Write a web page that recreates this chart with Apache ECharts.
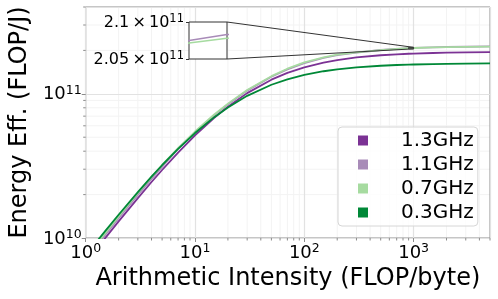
<!DOCTYPE html>
<html><head><meta charset="utf-8">
<script src="https://cdn.jsdelivr.net/npm/echarts@6/dist/echarts.min.js"></script>
<style>html,body{margin:0;padding:0;background:#fff}#c{width:498px;height:299px}</style>
</head><body><div id="c"></div>
<script>
// ---- data ----
const seriesNames = ['1.3GHz', '1.1GHz', '0.7GHz', '0.3GHz'];
const seriesColors = ['#7b3294', '#a88bb8', '#a6dba0', '#008837'];
const intensity = [1, 1.25, 1.5, 2, 3, 4, 5, 7, 10, 15, 20, 30, 50, 70, 100, 150, 200, 300, 500, 700, 900, 1000, 1500, 2000, 3000, 5000];
const eff13 = [0.0674e11, 0.0836e11, 0.0994e11, 0.1303e11, 0.1892e11, 0.2444e11, 0.2962e11, 0.3910e11, 0.5145e11, 0.6820e11, 0.8146e11, 1.0112e11, 1.2532e11, 1.3964e11, 1.5273e11, 1.6475e11, 1.7149e11, 1.7881e11, 1.8513e11, 1.8798e11, 1.8960e11, 1.9017e11, 1.9192e11, 1.9280e11, 1.9369e11, 1.9441e11];
const eff11 = [0.0708e11, 0.0878e11, 0.1045e11, 0.1371e11, 0.1989e11, 0.2571e11, 0.3117e11, 0.4159e11, 0.5393e11, 0.7118e11, 0.8465e11, 1.0524e11, 1.3122e11, 1.4780e11, 1.6345e11, 1.7730e11, 1.8580e11, 1.9310e11, 2.0130e11, 2.0510e11, 2.0750e11, 2.0830e11, 2.1010e11, 2.1110e11, 2.1210e11, 2.1300e11];
const eff07 = [0.0730e11, 0.0905e11, 0.1077e11, 0.1413e11, 0.2051e11, 0.2650e11, 0.3213e11, 0.4200e11, 0.5475e11, 0.7190e11, 0.8550e11, 1.0630e11, 1.3255e11, 1.4930e11, 1.6510e11, 1.7910e11, 1.8680e11, 1.9350e11, 2.0100e11, 2.0480e11, 2.0715e11, 2.0780e11, 2.0980e11, 2.1080e11, 2.1180e11, 2.1270e11];
const eff03 = [0.0758e11, 0.0937e11, 0.1111e11, 0.1449e11, 0.2081e11, 0.2661e11, 0.3196e11, 0.4149e11, 0.5344e11, 0.6887e11, 0.8049e11, 0.9683e11, 1.1560e11, 1.2608e11, 1.3527e11, 1.4340e11, 1.4785e11, 1.5257e11, 1.5658e11, 1.5836e11, 1.5937e11, 1.5973e11, 1.6080e11, 1.6135e11, 1.6189e11, 1.6233e11];
const allEff = [eff13, eff11, eff07, eff03];

const xRange = [1, 5000];
const yRange = [1e10, 4e11];
const insetXRange = [900, 1000];
const insetYRange = [2.05e11, 2.1e11];
const insetYLabels = ['2.05\u2009×\u200910', '2.1\u2009×\u200910'];
const insetYExp = '11';
const xMinor = [2,3,4,5,6,7,8,9,20,30,40,50,60,70,80,90,200,300,400,500,600,700,800,900,2000,3000,4000,5000];
const yMinor = [2e10,3e10,4e10,5e10,6e10,7e10,8e10,9e10,2e11,3e11,4e11];

const FONT = 'DejaVu Sans';
const richTick = {
  b: {fontSize: 18, fontFamily: FONT, color: '#000', lineHeight: 20, verticalAlign: 'bottom'},
  e: {fontSize: 12.5, fontFamily: FONT, color: '#000', lineHeight: 12, verticalAlign: 'top'}
};
const richInset = {
  b: {fontSize: 16, fontFamily: FONT, color: '#000', lineHeight: 18, verticalAlign: 'bottom'},
  e: {fontSize: 11.5, fontFamily: FONT, color: '#000', lineHeight: 11, verticalAlign: 'top'}
};
function powFmt(v) {
  const l = Math.log10(v);
  const e = Math.round(l);
  if (Math.abs(l - e) > 1e-6) return '';
  return '{b|10}{e|' + e + '}';
}

const chart = echarts.init(document.getElementById('c'), null, {renderer: 'canvas'});

const series = [];
seriesNames.forEach((n, i) => {
  series.push({
    type: 'line', name: n, xAxisIndex: 0, yAxisIndex: 0,
    data: intensity.map((x, k) => [x, allEff[i][k]]),
    showSymbol: false, smooth: false, clip: true,
    lineStyle: {width: 1.8, color: seriesColors[i], join: 'round'}, itemStyle: {color: seriesColors[i]},
    z: 3, emphasis: {disabled: true}
  });
});
seriesNames.forEach((n, i) => {
  series.push({
    type: 'line', name: n, xAxisIndex: 1, yAxisIndex: 1,
    data: intensity.map((x, k) => [x, allEff[i][k]]),
    showSymbol: false, smooth: false, clip: true,
    lineStyle: {width: 1.5, color: seriesColors[i]}, itemStyle: {color: seriesColors[i]},
    z: 12, emphasis: {disabled: true}
  });
});

chart.setOption({
  animation: false,
  backgroundColor: '#fff',
  grid: [
    {left: 83, right: 8, top: 7, bottom: 61, show: true, borderColor: '#8c8c8c', borderWidth: 1, backgroundColor: 'transparent', containLabel: false},
    {left: 189, top: 22, width: 38, height: 37, show: true, borderColor: '#333', borderWidth: 1, backgroundColor: '#fff', z: 10, containLabel: false}
  ],
  legend: {
    orient: 'vertical', left: 338, top: 127, icon: 'rect', itemWidth: 10, itemHeight: 10, itemGap: 1,
    padding: [2, 4, 2, 20], backgroundColor: 'rgba(255,255,255,0.8)', borderColor: '#d6d6d6', borderWidth: 1, borderRadius: 4,
    textStyle: {fontSize: 20, fontFamily: FONT, color: '#000', padding: [0, 0, 0, 28], lineHeight: 23},
    data: seriesNames, z: 20
  },
  xAxis: [
    {type: 'log', logBase: 10, gridIndex: 0, min: xRange[0], max: xRange[1],
     name: 'Arithmetic Intensity (FLOP/byte)', nameLocation: 'middle', nameGap: 26,
     nameTextStyle: {fontSize: 24, fontFamily: FONT, color: '#000'},
     axisLine: {show: false}, axisTick: {show: true, length: 4, lineStyle: {color: '#8c8c8c'}},
     axisLabel: {formatter: powFmt, rich: richTick, margin: 4, showMinLabel: true, showMaxLabel: false},
     splitLine: {show: true, lineStyle: {color: '#e2e2e2', width: 1.2}}},
    {type: 'log', logBase: 10, gridIndex: 1, min: insetXRange[0], max: insetXRange[1], z: 12,
     axisLine: {show: false}, axisTick: {show: false}, axisLabel: {show: false}, splitLine: {show: false}}
  ],
  yAxis: [
    {type: 'log', logBase: 10, gridIndex: 0, min: yRange[0], max: yRange[1],
     name: 'Energy Eff. (FLOP/J)', nameLocation: 'middle', nameGap: 50,
     nameTextStyle: {fontSize: 24, fontFamily: FONT, color: '#000'},
     axisLine: {show: false}, axisTick: {show: true, length: 4, lineStyle: {color: '#8c8c8c'}},
     axisLabel: {formatter: powFmt, rich: richTick, margin: 4, showMaxLabel: false},
     splitLine: {show: true, lineStyle: {color: '#e2e2e2', width: 1.2}}},
    {type: 'value', gridIndex: 1, min: insetYRange[0], max: insetYRange[1], interval: insetYRange[1] - insetYRange[0], z: 12,
     axisLine: {show: false}, axisTick: {show: true, length: 3, lineStyle: {color: '#333'}},
     axisLabel: {margin: 5, rich: richInset, formatter: v => {
        const idx = Math.abs(v - insetYRange[0]) < 1e6 ? 0 : (Math.abs(v - insetYRange[1]) < 1e6 ? 1 : -1);
        return idx < 0 ? '' : '{b|' + insetYLabels[idx] + '}{e|' + insetYExp + '}';
     }},
     splitLine: {show: false}}
  ],
  series: series
});

// minor grid, inset indicator rectangle, connector lines, minor ticks
const p = (g, v) => chart.convertToPixel({gridIndex: g}, v);
const gfx = [];
const gTop = p(0, [xRange[0], yRange[1]]), gBot = p(0, [xRange[1], yRange[0]]);
const insTL = p(1, [insetXRange[0], insetYRange[1]]), insBR = p(1, [insetXRange[1], insetYRange[0]]);
function addGridLine(x1, y1, x2, y2) {
  gfx.push({type: 'line', shape: {x1, y1, x2, y2}, style: {stroke: '#f3f3f3', lineWidth: 1}, z: -1, silent: true});
}
xMinor.forEach(v => {
  if (v >= xRange[1]) return;
  const q = p(0, [v, yRange[0]]);
  if (q[0] > insTL[0] && q[0] < insBR[0]) {
    addGridLine(q[0], gTop[1], q[0], insTL[1]);
    addGridLine(q[0], insBR[1], q[0], gBot[1]);
  } else addGridLine(q[0], gTop[1], q[0], gBot[1]);
});
yMinor.forEach(v => {
  if (v >= yRange[1]) return;
  const q = p(0, [xRange[0], v]);
  if (q[1] > insTL[1] && q[1] < insBR[1]) {
    addGridLine(gTop[0], q[1], insTL[0], q[1]);
    addGridLine(insBR[0], q[1], gBot[0], q[1]);
  } else addGridLine(gTop[0], q[1], gBot[0], q[1]);
});
const r0 = p(0, [insetXRange[0], insetYRange[1]]);
const r1 = p(0, [insetXRange[1], insetYRange[0]]);
gfx.push({type: 'rect', shape: {x: r0[0], y: r0[1], width: r1[0] - r0[0], height: r1[1] - r0[1]}, style: {fill: 'none', stroke: '#333', lineWidth: 1}, z: 15, silent: true});
[[insetXRange[1], insetYRange[1]], [insetXRange[1], insetYRange[0]]].forEach(c => {
  const a = p(1, c), b = p(0, c);
  gfx.push({type: 'line', shape: {x1: a[0], y1: a[1], x2: b[0], y2: b[1]}, style: {stroke: '#333', lineWidth: 1}, z: 15, silent: true});
});
xMinor.forEach(v => {
  const q = p(0, [v, yRange[0]]);
  gfx.push({type: 'line', shape: {x1: q[0], y1: q[1], x2: q[0], y2: q[1] + 2.5}, style: {stroke: '#8c8c8c', lineWidth: 1}, silent: true});
});
yMinor.forEach(v => {
  if (v > yRange[1]) return;
  const q = p(0, [xRange[0], v]);
  gfx.push({type: 'line', shape: {x1: q[0] - 2.5, y1: q[1], x2: q[0], y2: q[1]}, style: {stroke: '#8c8c8c', lineWidth: 1}, silent: true});
});
chart.setOption({graphic: {elements: gfx}});
</script></body></html>
